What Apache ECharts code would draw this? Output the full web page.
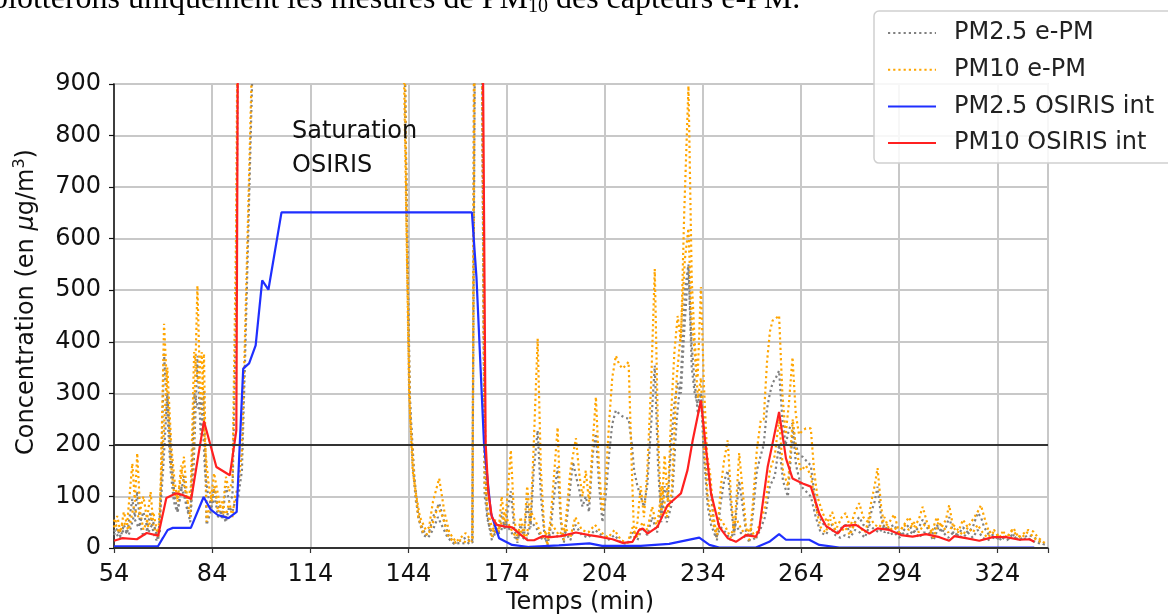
<!DOCTYPE html>
<html><head><meta charset="utf-8">
<script src="https://cdn.jsdelivr.net/npm/echarts@6/dist/echarts.min.js"></script>
<style>html,body{margin:0;padding:0;background:#fff}#c{width:1168px;height:614px}</style>
</head><body><div id="c"></div>
<script>
// ---- axis settings ----
const X_ORIGIN = 54;            // first x tick (minutes)
const X_END = 339.5;            // right edge of plot (minutes)
const xTickStep = 30;
const yTicks = [0,100,200,300,400,500,600,700,800,900];
const thresholdLines = [0, 200];
const seriesNames = ['PM2.5 e-PM','PM10 e-PM','PM2.5 OSIRIS int','PM10 OSIRIS int'];

// ---- OSIRIS PM2.5 ----
const tOsiris25 = [54,58,62,67.4,69,70.4,72,77.5,81.4,83.5,85.7,89,91.5,93.5,95.3,97.3,99.3,101.2,105.2,163.4,164.8,167.1,169.2,171.7,175.7,180.9,190,199.3,203.2,215,223.7,232.9,236,239,250.2,254.3,257.3,259.4,266.5,269.6,275.7,335.3];
const osiris25  = [3,3,3,3,20,35,39,39,99,75,64,58,70,348,358,393,519,501,651,651,525,203,68,19,6,2,5,9,4,4,8,20,6,1,1,12,27,16,16,6,1,1];

// ---- OSIRIS PM10 ----
const tOsiris10 = [54,56.5,61,64,67.5,70,73,75,77.6,81.5,85.3,89.4,91.4,92,166.5,167.6,168.4,169.5,171,173.3,175.7,177.9,180.4,182.4,185,187.5,190.6,195.2,199.3,202.3,206.4,209.5,212.5,214.5,215.6,217.1,220.1,223.2,227.3,229.3,230.9,233.4,234.9,236.5,239,241.6,244.1,247.2,250.2,251.2,253.8,257.3,259.4,261.4,264.5,267,269.6,271.6,275.2,277.2,280.8,284.9,287.4,291,294.6,298.1,302.2,306.3,309.3,310.9,314.4,318.5,322.6,326.7,330.8,333.8,335.3];
const osiris10  = [14,19,17,29,24,97,106,103,95,246,157,141,228,1200,1200,203,110,60,45,42,40,28,15,15,23,21,23,30,25,22,17,10,12,35,38,28,41,83,106,151,209,286,196,106,41,19,12,25,22,35,157,264,174,135,125,119,67,43,28,43,45,28,38,35,25,22,27,21,14,23,19,14,21,21,16,17,12];

// ---- e-PM sensor A ----
const tSensorA = [54,55,56,57,58,59.6,60.4,61.1,62,63,64,65.2,66,67,68,69.3,70.3,71.3,72.3,73.3,74.3,75.4,76.3,77.3,78.3,79.5,80.5,81.5,82.3,83.5,84.6,85.6,86.5,87.1,88.2,89.2,90.2,91.3,92.3,141.5,142.7,144.2,145.3,146.3,147.5,149.3,150.3,151.5,153.4,155,156.5,158.5,160,161.5,162.5,163.6,164.3,166,167.3,168.6,169.5,170.5,171.5,172.5,173.5,174.5,175.3,176.3,177.3,178.3,179.3,180.3,181.3,182.3,183.5,184.5,185.5,186.5,187.5,188.5,189.6,190.6,191.5,192.5,193.5,194.3,195.2,196.3,197.2,198.2,199.2,200.3,201.3,202.3,203.3,204.3,205.3,206.3,207.4,208.5,209.5,210.5,211.3,212.3,213,214,215,216,217,218.2,219.3,220.3,221.3,222.3,223.3,224.3,225.3,226.3,227.3,228.3,229.6,230.6,231.5,232.4,233.4,234.3,235.3,236.3,237.3,238.3,239.5,240.5,241.6,242.6,243.6,244.5,245.1,246.2,247.2,248.2,249.2,250.5,251.7,252.6,253.6,254.5,255.3,256.3,257.3,258.3,259.3,260.3,261.4,262.4,263.4,264.5,265.5,267,268,269,270.6,272,273.5,275,276.5,277.7,279,280.5,281.8,283,284.5,285.5,286.5,287.4,288.5,289.5,291,292.5,294,295.5,297,298.5,300,301.2,302.5,304,305.5,307,308.3,309.3,310.5,312,313.5,315,316.5,318,319,320,321.5,323,324.5,326,327.5,329,330.5,332,333.5,335,336.5,338,339];
const epm10A = [40,62,30,70,45,164,90,184,70,35,50,109,45,25,40,435,300,170,110,95,130,177,100,60,200,509,260,377,51,90,145,110,80,64,138,110,130,600,1500,1500,900,300,150,106,60,35,40,90,135,70,30,12,20,29,20,12,1500,1500,119,60,20,55,30,100,45,120,190,60,15,60,25,120,50,200,406,150,40,5,60,140,234,60,15,80,150,180,213,140,100,150,90,200,293,150,70,130,240,330,373,355,348,355,361,150,20,50,120,60,150,320,541,220,60,180,90,260,380,450,400,650,896,520,400,330,506,320,180,140,60,20,120,170,209,100,30,120,184,110,40,15,80,190,248,250,360,420,441,445,451,300,220,280,370,260,220,228,232,232,150,100,68,50,70,40,60,68,40,70,87,60,50,90,120,155,80,40,50,65,30,45,60,40,55,80,50,30,60,40,55,83,40,30,55,40,55,70,83,60,30,35,20,30,25,38,20,28,35,32,20,12,8];
const epm25A = [25,38,20,45,28,95,60,110,45,22,35,70,30,15,30,377,260,150,90,70,100,140,80,50,150,373,220,306,45,70,119,90,70,55,120,90,100,450,1400,1400,1000,330,160,90,50,25,30,60,87,50,20,10,15,20,15,10,1400,1400,100,45,15,40,25,70,35,80,110,40,10,45,20,90,40,150,228,100,30,5,40,100,157,50,10,60,120,167,140,110,80,100,70,180,222,120,50,100,180,240,267,260,255,252,251,200,150,120,100,80,120,240,354,160,50,120,90,200,280,320,300,420,548,350,300,280,300,250,140,120,50,15,90,130,150,80,25,90,130,80,30,10,60,150,180,200,270,300,320,330,344,250,200,230,242,200,180,177,170,160,110,70,48,40,45,30,40,45,30,50,60,45,40,70,90,119,60,30,40,45,25,35,45,30,40,55,40,25,45,30,40,60,30,25,40,30,40,68,60,40,25,25,15,22,18,25,15,20,25,22,15,8,5];

// ---- e-PM sensor B ----
const tSensorB = [54,55.5,57,58.5,60,61.5,63,64.5,66,67.5,69,70.3,71.5,72.5,73.5,74.5,75.5,76.5,77.5,78.5,79.8,80.8,81.8,82.8,83.8,84.8,85.8,87,88.2,89.2,90.2,91,92,93.1,94,95,96.2,97,140,142.8,143.5,144.5,145.8,147,148.5,150,151.5,153,154.5,156,158,160,162,163.5,164.6,166.2,167.2,168,169,170.5,172,173.5,175,176.5,178,180,181.5,183,185,186.5,188,190,192,193.5,195,197,199,201,203,205,207,209,211,212.5,214,215.5,217,218.5,220,221.5,223,224.5,226,227.3,228.5,229.6,230.5,231.5,232.5,233.4,234.3,235.5,236.5,238,239.5,241,242.5,244,245.5,247,248.5,250,251.5,253,254.5,256,257.3,258.5,260,261.5,262.5,264,265.5,267,268.5,270,271.5,273,274.5,276,277.5,279,280.5,282,283.5,285,286.5,288,289.5,291,292.5,294,295.5,297,298.5,300,301.5,303,304.5,306,307.5,309,310.5,312,313.5,315,316.5,318,319.5,321,322.5,324,325.5,327,328.5,330,331.5,333,334.5,336,338];
const epm10B = [55,30,50,35,80,60,100,40,70,20,200,350,200,130,90,160,120,90,120,380,320,380,200,130,90,120,70,90,60,90,60,100,120,190,400,650,950,1400,1400,1000,600,260,130,60,30,25,50,80,60,25,10,15,10,20,1400,1400,300,80,50,30,40,70,40,25,35,20,70,50,20,30,45,25,40,20,60,35,30,45,30,20,35,15,10,40,20,50,35,80,40,120,60,110,330,420,560,620,450,380,290,330,200,100,60,30,55,40,20,60,40,25,40,20,50,80,150,180,250,150,120,250,190,150,160,140,80,40,30,55,35,30,40,25,50,40,30,60,45,40,60,35,40,30,45,35,50,30,45,40,20,50,40,30,45,35,25,40,30,45,30,20,30,25,30,20,35,25,20,30,25,15,10];
const epm25B = [35,20,35,25,60,40,70,30,50,15,150,300,180,100,70,120,100,70,80,300,270,290,150,100,80,100,60,70,50,80,70,90,100,150,350,600,900,1300,1300,1000,650,280,140,60,25,20,35,60,40,20,8,10,8,15,1300,1300,250,60,35,25,30,50,35,20,25,15,50,40,15,20,30,20,30,15,45,25,20,35,25,15,25,10,8,30,15,40,25,60,30,90,50,85,250,330,500,550,400,320,260,300,180,80,45,20,40,30,15,45,30,20,30,15,35,60,120,140,200,130,100,230,160,120,110,100,60,30,25,40,25,20,25,20,35,30,20,45,35,30,45,25,30,20,30,25,35,20,30,30,15,40,30,20,30,25,20,30,20,35,20,15,20,18,20,15,25,18,15,20,15,10,8];

// ---- build ----
const xy = (ts, vs) => ts.map((t, i) => [t - X_ORIGIN, vs[i]]);
const FONT = 'DejaVu Sans';
const NOSYM = 'rgba(0,0,0,0)';
const dotted = (color) => ({ color: color, width: 2.2, type: [2.2, 3], cap: 'butt' });

const chart = echarts.init(document.getElementById('c'), null, { renderer: 'canvas' });

function epmSeries(name, color, ts, vs) {
  return { name: name, type: 'line', data: xy(ts, vs), showSymbol: false, symbol: 'none',
    lineStyle: dotted(color), itemStyle: { color: NOSYM, borderWidth: 0 }, clip: true, z: 2, silent: true };
}

const option = {
  animation: false,
  backgroundColor: '#fff',
  grid: { left: 114, top: 84, width: 934, height: 464, show: true, borderColor: '#777', borderWidth: 1.5, backgroundColor: 'transparent' },
  xAxis: {
    type: 'value', min: 0, max: X_END - X_ORIGIN, interval: xTickStep,
    axisLine: { show: true, onZero: false, lineStyle: { color: '#333', width: 1.5 } },
    axisTick: { show: true, length: 5, lineStyle: { color: '#333', width: 1.2 } },
    axisLabel: { margin: 15, fontFamily: FONT, fontSize: 24, color: '#111',
      formatter: v => (Math.abs(v % xTickStep) < 1e-6 ? String(v + X_ORIGIN) : '') },
    splitLine: { show: true, lineStyle: { color: '#c8c8c8', width: 2 } }
  },
  yAxis: {
    type: 'value', min: yTicks[0], max: yTicks[yTicks.length - 1], interval: 100,
    axisLine: { show: true, lineStyle: { color: '#111', width: 1.5 } },
    axisTick: { show: true, length: 5, lineStyle: { color: '#111', width: 1.2 } },
    axisLabel: { margin: 13, fontFamily: FONT, fontSize: 24, color: '#111' },
    splitLine: { show: true, lineStyle: { color: '#c8c8c8', width: 2 } }
  },
  legend: {
    data: seriesNames, orient: 'vertical', left: 874, top: 11,
    padding: [10, 24, 8, 13], itemGap: 12.7, itemWidth: 48, itemHeight: 14,
    backgroundColor: 'rgba(255,255,255,0.85)', borderColor: '#d0d0d0', borderWidth: 1.5, borderRadius: 5,
    itemStyle: { color: NOSYM, borderWidth: 0, opacity: 0 },
    textStyle: { fontFamily: FONT, fontSize: 24, lineHeight: 24, color: '#222', padding: [0, 0, 0, 13] },
    selectedMode: false
  },
  series: [
    epmSeries(seriesNames[0], '#808080', tSensorA, epm25A),
    epmSeries(seriesNames[1], '#FFA500', tSensorA, epm10A),
    epmSeries(seriesNames[0], '#808080', tSensorB, epm25B),
    epmSeries(seriesNames[1], '#FFA500', tSensorB, epm10B),
    { name: seriesNames[2], type: 'line', data: xy(tOsiris25, osiris25), showSymbol: false, symbol: 'none',
      lineStyle: { color: '#1f2fff', width: 2.2 }, itemStyle: { color: NOSYM, borderWidth: 0 }, clip: true, z: 3, silent: true },
    { name: seriesNames[3], type: 'line', data: xy(tOsiris10, osiris10), showSymbol: false, symbol: 'none',
      lineStyle: { color: '#ff2020', width: 2.2 }, itemStyle: { color: NOSYM, borderWidth: 0 }, clip: true, z: 4, silent: true,
      markLine: { silent: true, symbol: 'none', label: { show: false },
        lineStyle: { color: '#333', width: 2, type: 'solid' },
        data: thresholdLines.map(v => ({ yAxis: v })) } }
  ],
  graphic: [
    { type: 'text', left: 292, top: 115, z: 10,
      style: { text: 'Saturation\nOSIRIS', font: '24px "DejaVu Sans"', lineHeight: 34, fill: '#111' } },
    { type: 'text', x: 27, y: 302, rotation: Math.PI / 2, z: 10,
      style: { text: 'Concentration (en {mu|μ}g/m{sup|3})', fontFamily: FONT, fontSize: 24, lineHeight: 30,
        fill: '#111', align: 'center', verticalAlign: 'middle',
        rich: { mu: { fontFamily: FONT, fontSize: 24, fontStyle: 'italic', lineHeight: 30, fill: '#111' },
                sup: { fontFamily: FONT, fontSize: 16, lineHeight: 14, verticalAlign: 'top', fill: '#111' } } } },
    { type: 'text', x: 580, y: 603, z: 10,
      style: { text: 'Temps (min)', fontFamily: FONT, fontSize: 24, fill: '#111', align: 'center', verticalAlign: 'middle' } },
    { type: 'text', x: -8, y: 0, z: 10,
      style: { text: 'plotterons uniquement les mesures de PM{sub|10} des capteurs e-PM.', fontFamily: 'Liberation Serif',
        fontSize: 32, lineHeight: 34, fill: '#000', align: 'left', verticalAlign: 'middle',
        rich: { sub: { fontFamily: 'Liberation Serif', fontSize: 20, lineHeight: 12, verticalAlign: 'bottom', fill: '#000' } } } }
  ]
};
chart.setOption(option);
</script>
</body></html>
